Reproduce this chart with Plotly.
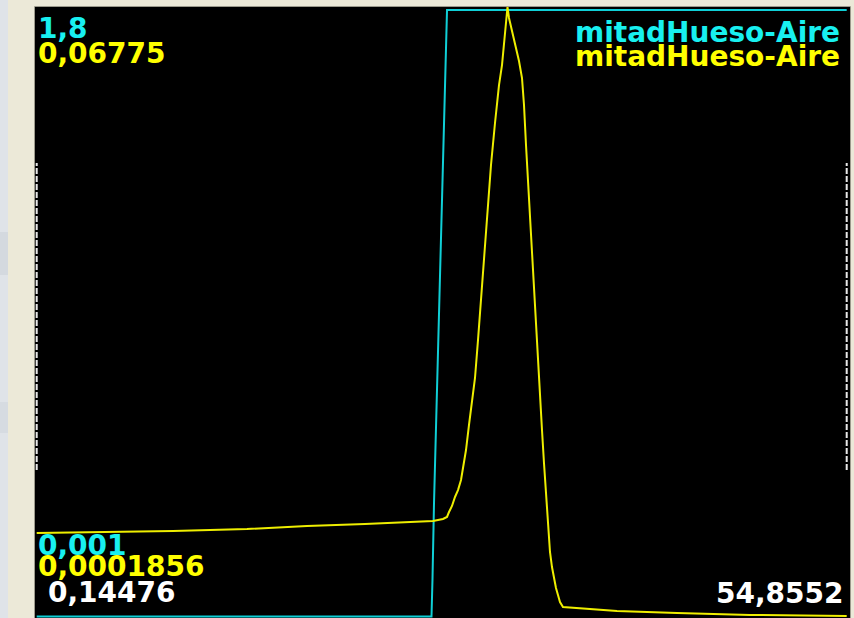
import plotly.graph_objects as go

# ---- data -------------------------------------------------------------
# Channel shown in cyan: step across the bone/air boundary
x_cyan = [0.14476, 26.811, 26.879, 26.980, 27.791, 27.859, 54.8552]
y_cyan = [0.001, 0.001, 0.1138, 0.3365, 1.687, 1.8, 1.8]

# Channel shown in yellow: peak at the boundary
x_yellow = [0.14476, 9.351, 14.349, 18.402, 22.319, 25.359, 26.912,
            27.588, 27.858, 27.993, 28.195, 28.398, 28.601, 28.804, 28.939,
            29.141, 29.344, 29.547, 29.749, 29.952, 30.154, 30.290, 30.560,
            30.830, 31.100, 31.235, 31.370, 31.573, 31.708, 31.843, 31.944,
            32.046, 32.181, 32.316, 32.451, 32.586, 32.721, 32.924, 33.059,
            33.194, 33.329, 33.464, 33.599, 33.734, 33.869, 34.004, 34.139,
            34.274, 34.409, 34.544, 34.679, 34.814, 34.949, 35.084, 35.219,
            35.354, 35.489, 35.692, 37.381, 39.340, 43.393, 48.323, 54.8552]
y_yellow = [0.009394, 0.009616, 0.009837, 0.01017, 0.01039, 0.01061, 0.01072,
            0.01095, 0.01117, 0.01172, 0.01239, 0.01339, 0.01416, 0.01527,
            0.01660, 0.01860, 0.02138, 0.02415, 0.02659, 0.03080, 0.03524,
            0.03791, 0.04423, 0.05022, 0.05488, 0.05743, 0.05909, 0.06131,
            0.06353, 0.06575, 0.06775,
            0.06653, 0.06553, 0.06453, 0.06364, 0.06276, 0.06176, 0.05987,
            0.05688, 0.05244, 0.04833, 0.04434, 0.04023, 0.03635, 0.03214,
            0.02825, 0.02459, 0.02082, 0.01716, 0.01361, 0.01006, 0.00729,
            0.00562, 0.00440, 0.00329, 0.00252, 0.00174,
            0.00118, 0.00096, 0.00074, 0.00052, 0.00030, 0.0001856]

# Range labels
x_min, x_max = 0.14476, 54.8552
cyan_min, cyan_max = 0.001, 1.8
yellow_min, yellow_max = 0.0001856, 0.06775
series_name = "mitadHueso-Aire"


def fmt(v):
    return f"{v:g}".replace(".", ",")


# ---- geometry (pixels) -------------------------------------------------
W, H = 854, 618
L, R, T, B = 35, 4, 7, 0
PW, PH = W - L - R, H - T - B


def edges(v_a, p_a, v_b, p_b, e_a, e_b):
    """Linear value->pixel map through two anchors, evaluated at the plot edges."""
    k = (v_b - v_a) / (p_b - p_a)
    return [v_a + (e_a - p_a) * k, v_a + (e_b - p_a) * k]


x_range = edges(x_min, 36.7, x_max, 846.7, L, W - R)
cyan_range = edges(cyan_min, 616.5, cyan_max, 10, H - B, T)
yellow_range = edges(yellow_min, 616, yellow_max, 7, H - B, T)


def px(x):
    return (x - L) / PW


def py(y):
    return (H - B - y) / PH


CYAN_LINE = "#10cfd6"
YELLOW_LINE = "#eeee00"
CYAN_TXT = "#18f0f0"
YELLOW_TXT = "#ffff00"
FONT = "DejaVu Sans"
FS = 28

fig = go.Figure()
fig.add_trace(go.Scatter(x=x_cyan, y=y_cyan, mode="lines",
                         line=dict(color=CYAN_LINE, width=2), yaxis="y",
                         hoverinfo="skip"))
fig.add_trace(go.Scatter(x=x_yellow, y=y_yellow, mode="lines",
                         line=dict(color=YELLOW_LINE, width=2), yaxis="y2",
                         hoverinfo="skip"))

ann = []


def label(text, x, y, color, anchor):
    ann.append(dict(text=text, x=px(x), y=py(y), xref="paper", yref="paper",
                    xanchor=anchor, yanchor="middle", showarrow=False,
                    font=dict(family=FONT, size=FS, color=color,
                              weight="bold")))


label(fmt(cyan_max), 36, 28.5, CYAN_TXT, "left")
label(fmt(yellow_max), 36, 54, YELLOW_TXT, "left")
label(series_name, 842, 33, CYAN_TXT, "right")
label(series_name, 842, 56, YELLOW_TXT, "right")
label(fmt(cyan_min), 36, 545, CYAN_TXT, "left")
label(fmt(yellow_min), 36, 566, YELLOW_TXT, "left")
label(fmt(x_min), 46, 592.5, "#ffffff", "left")
label(fmt(x_max), 846, 593.5, "#ffffff", "right")

shapes = [
    # window chrome left of the panel
    dict(type="rect", xref="paper", yref="paper", x0=px(0), x1=px(8),
         y0=py(H), y1=py(0), fillcolor="#dfe3e8", line=dict(width=0)),
    dict(type="rect", xref="paper", yref="paper", x0=px(0), x1=px(8),
         y0=py(275), y1=py(232), fillcolor="#d4d9df", line=dict(width=0)),
    dict(type="rect", xref="paper", yref="paper", x0=px(0), x1=px(8),
         y0=py(433), y1=py(402), fillcolor="#d6dbe1", line=dict(width=0)),
    # panel border
    dict(type="line", xref="paper", yref="paper", x0=px(34.5), x1=px(34.5),
         y0=py(H), y1=py(6.5), line=dict(color="#9c9a8c", width=1)),
    dict(type="line", xref="paper", yref="paper", x0=px(34.5), x1=px(850.5),
         y0=py(6.5), y1=py(6.5), line=dict(color="#9c9a8c", width=1)),
    dict(type="line", xref="paper", yref="paper", x0=px(850.5), x1=px(850.5),
         y0=py(H), y1=py(6.5), line=dict(color="#9c9a8c", width=1)),
]
# dashed markers at the ends of the x range
for xv in (x_min, x_max):
    shapes.append(dict(type="line", xref="x", yref="paper", x0=xv, x1=xv,
                       y0=py(470), y1=py(163),
                       line=dict(color="#e8e8e8", width=2, dash="6px,2px")))

fig.update_layout(
    width=W, height=H,
    margin=dict(l=L, r=R, t=T, b=B, pad=0),
    paper_bgcolor="#ece9d8",
    plot_bgcolor="#000000",
    showlegend=False,
    xaxis=dict(range=x_range, visible=False, showgrid=False, zeroline=False),
    yaxis=dict(range=cyan_range, visible=False, showgrid=False, zeroline=False),
    yaxis2=dict(range=yellow_range, overlaying="y", visible=False,
                showgrid=False, zeroline=False),
    annotations=ann,
    shapes=shapes,
)

fig.write_html("out.html")
